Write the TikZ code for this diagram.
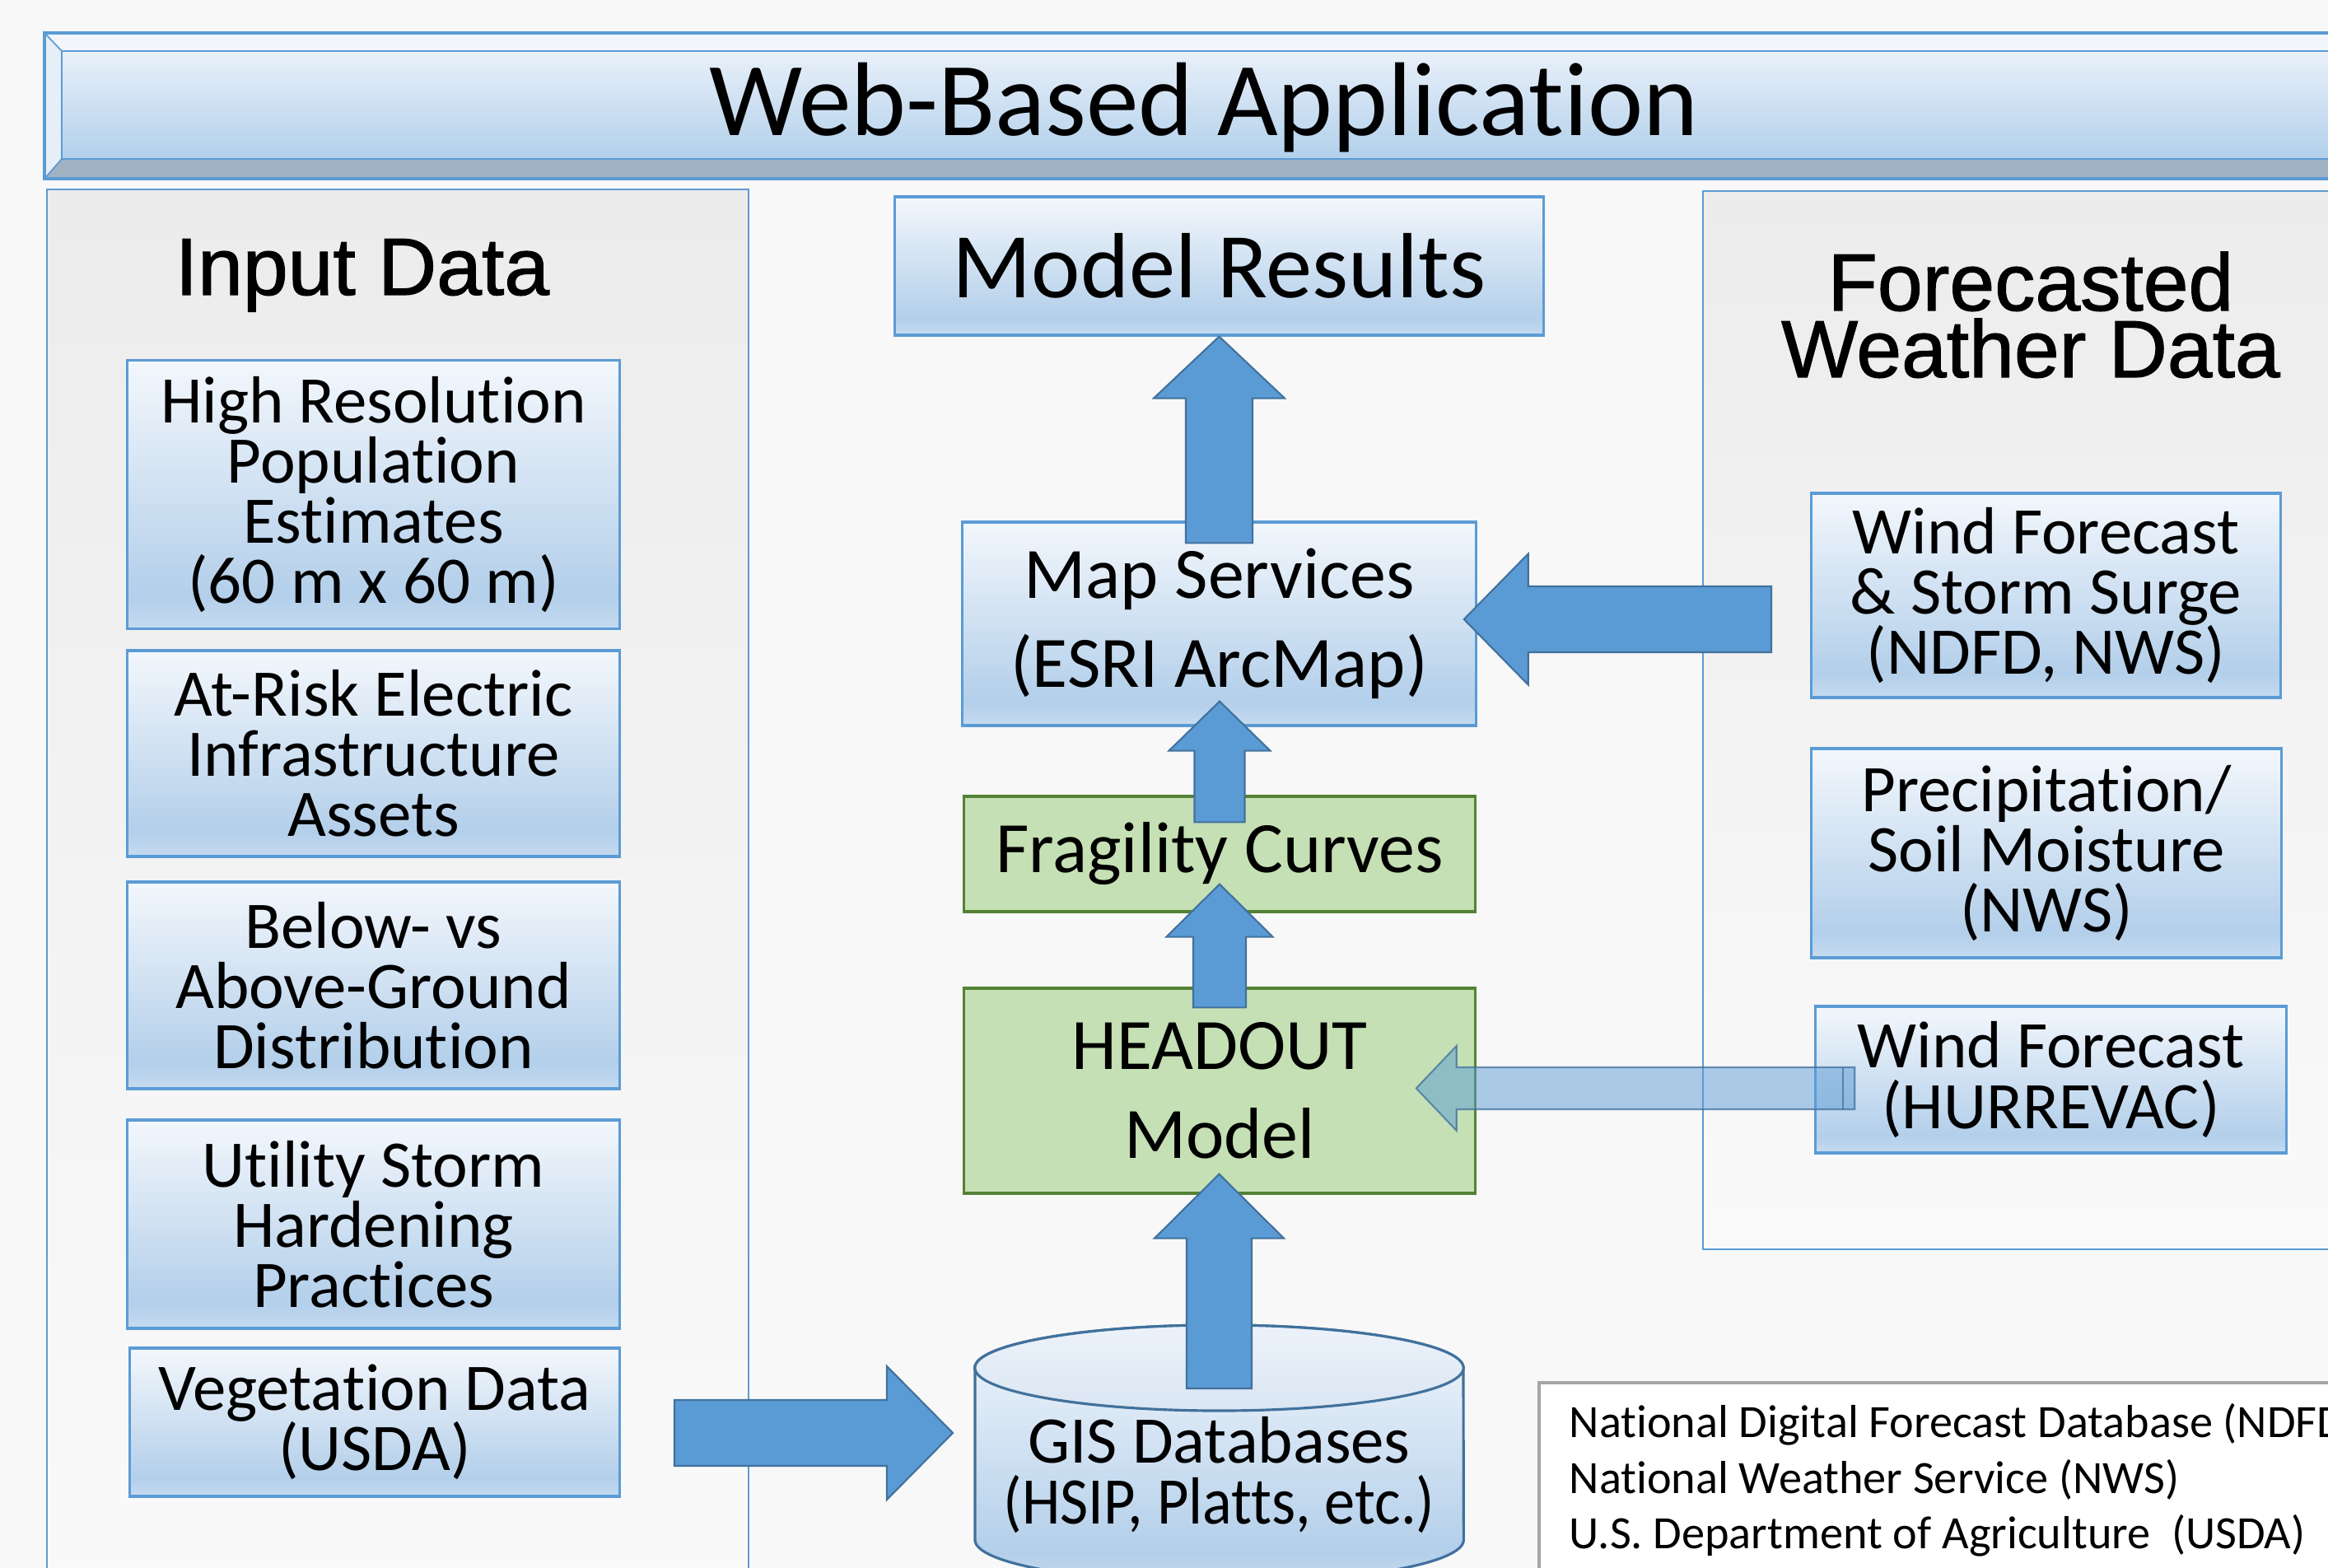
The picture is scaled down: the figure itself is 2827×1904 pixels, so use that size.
\documentclass[tikz,border=0pt]{standalone}
\usepackage{fontspec}
\setmainfont[Ligatures=NoCommon]{Carlito}
\newfontfamily\headfont[FakeBold=1.2]{Liberation Sans}
\usetikzlibrary{calc}

\definecolor{accent}{HTML}{5B9BD5}
\definecolor{accentdark}{HTML}{41719C}
\definecolor{boxtop}{HTML}{F3F7FC}
\definecolor{boxmid}{HTML}{B3CFEA}
\definecolor{boxbot}{HTML}{C6DBF0}
\definecolor{facetop}{HTML}{E9F0F9}
\definecolor{facebot}{HTML}{B2D0EB}
\definecolor{captop}{HTML}{ECF2FA}
\definecolor{capbot}{HTML}{DAE6F3}
\definecolor{greenfill}{HTML}{C5E0B4}
\definecolor{greenline}{HTML}{548235}
\definecolor{bevellight}{HTML}{F2F6FB}
\definecolor{bevelside}{HTML}{E6EEF8}
\definecolor{bevelbot}{HTML}{A1B2C4}
\definecolor{legendline}{HTML}{A6A6A6}
\definecolor{pagebg}{HTML}{F8F8F8}
\definecolor{paneltop}{HTML}{ECECEC}
\definecolor{panelbot}{HTML}{FAFAFA}

% light blue gradient with a slightly lighter band at the bottom
\pgfdeclareverticalshading{bluegrad}{100bp}{color(0bp)=(boxbot); color(25bp)=(boxbot); color(31bp)=(boxmid); color(75bp)=(boxtop); color(100bp)=(boxtop)}
\pgfdeclareverticalshading{facegrad}{100bp}{color(0bp)=(facebot); color(25bp)=(facebot); color(75bp)=(facetop); color(100bp)=(facetop)}
\pgfdeclareverticalshading{capgrad}{100bp}{color(0bp)=(capbot); color(25bp)=(capbot); color(75bp)=(captop); color(100bp)=(captop)}
\pgfdeclareverticalshading{panelgrad}{100bp}{color(0bp)=(panelbot); color(25bp)=(panelbot); color(75bp)=(paneltop); color(100bp)=(paneltop)}

% block arrows: tail, tip, half shaft width, half head width, head length
\newcommand\vblockarrow[6][blockarrow]{%
  \path[#1] ($(#2)+(-#4,0)$) -- ($(#2|-#3)+(-#4,#6)$) -- ($(#2|-#3)+(-#5,#6)$)
    -- (#2|-#3) -- ($(#2|-#3)+(#5,#6)$) -- ($(#2|-#3)+(#4,#6)$) -- ($(#2)+(#4,0)$) -- cycle;}
\newcommand\hblockarrow[6][blockarrow]{%
  \path[#1] ($(#2)+(0,-#4)$) -- ($(#3|-#2)+(#6,-#4)$) -- ($(#3|-#2)+(#6,-#5)$)
    -- (#3|-#2) -- ($(#3|-#2)+(#6,#5)$) -- ($(#3|-#2)+(#6,#4)$) -- ($(#2)+(0,#4)$) -- cycle;}

\tikzset{
  bluebox/.style={shade, shading=bluegrad, draw=accent, line width=0.9pt, inner sep=0pt,
    align=center, font=\fontsize{23}{20.8}\selectfont},
  greenbox/.style={fill=greenfill, draw=greenline, line width=0.9pt, inner sep=0pt,
    align=center, font=\fontsize{25}{30.7}\selectfont},
  panel/.style={shade, shading=panelgrad, draw=accent, line width=0.7pt},
  blockarrow/.style={fill=accent, draw=accentdark, line width=0.6pt},
  ghostarrow/.style={fill=accent, fill opacity=0.5, draw=accentdark, draw opacity=0.75, line width=0.6pt},
  heading/.style={font=\headfont\fontsize{28}{23}\selectfont, inner sep=0pt, anchor=base},
  legendtext/.style={font=\fontsize{16}{19.2}\selectfont, inner sep=0pt, anchor=base west},
}

\begin{document}
\begin{tikzpicture}[x=0.01cm, y=-0.01cm]
\clip (0,0) rectangle (2827,1904);
\fill[pagebg] (0,0) rectangle (2827,1904);

% side panels
\path[panel] (57,230) rectangle (909,1960);
\path[panel] (2068,232) rectangle (2900,1517);

% bevelled title bar
\fill[bevellight] (54,40) -- (2900,40) -- (2900,62) -- (75,62) -- cycle;
\fill[bevelside] (54,40) -- (75,62) -- (75,193) -- (54,217) -- cycle;
\fill[bevelbot] (54,217) -- (75,193) -- (2900,193) -- (2900,217) -- cycle;
\shade[shading=facegrad] (75,62) rectangle (2900,193);
\draw[accent, line width=0.5pt] (2900,62) -- (75,62) -- (75,193) -- (2900,193)
  (54,40) -- (75,62) (54,217) -- (75,193);
\draw[accent, line width=0.9pt] (54,40) rectangle (2900,217);
\node[font=\fontsize{36.2}{44}\selectfont, inner sep=0pt, anchor=base] (title) at (1462,165) {Web-Based Application};

% panel headings
\node[heading] (inhead) at (440,358) {Input Data};
\node[heading] (fchead1) at (2466,377) {Forecasted};
\node[heading] (fchead2) at (2466,458) {Weather Data};

% input data boxes
\node[bluebox, minimum width=5.97cm, minimum height=3.25cm] (hires) at (453.5,600.5)
  {High Resolution\\Population\\Estimates\\(60 m x 60 m)};
\node[bluebox, minimum width=5.97cm, minimum height=2.50cm] (atrisk) at (453.5,915)
  {At-Risk Electric\\Infrastructure\\Assets};
\node[bluebox, minimum width=5.97cm, minimum height=2.51cm] (below) at (453.5,1196.5)
  {Below- vs\\Above-Ground\\Distribution};
\node[bluebox, minimum width=5.97cm, minimum height=2.53cm] (utility) at (453.5,1486.5)
  {Utility Storm\\Hardening\\Practices};
\node[bluebox, minimum width=5.94cm, minimum height=1.80cm] (veg) at (455,1727)
  {Vegetation Data\\(USDA)};

% forecast boxes
\node[bluebox, minimum width=5.69cm, minimum height=2.48cm] (wind) at (2484.5,723)
  {Wind Forecast\\\& Storm Surge\\(NDFD, NWS)};
\node[bluebox, minimum width=5.70cm, minimum height=2.54cm] (precip) at (2485,1036)
  {Precipitation/\\Soil Moisture\\(NWS)};
\node[bluebox, minimum width=5.71cm, minimum height=1.78cm] (hurrevac) at (2490.5,1311)
  {Wind Forecast\\(HURREVAC)};

% central chain
\node[bluebox, minimum width=7.88cm, minimum height=1.68cm, font=\fontsize{32}{38}\selectfont]
  (results) at (1480.5,323) {Model Results};
\node[bluebox, minimum width=6.23cm, minimum height=2.47cm, font=\fontsize{25}{30.7}\selectfont]
  (map) at (1480.5,757.5) {Map Services\\(ESRI ArcMap)};
\node[greenbox, minimum width=6.20cm, minimum height=1.40cm] (frag) at (1481,1037) {Fragility Curves};
\node[greenbox, minimum width=6.20cm, minimum height=2.49cm] (headout) at (1481,1324.5) {HEADOUT\\Model};

% database cylinder
\path[shade, shading=bluegrad, draw=accentdark, line width=0.9pt]
  (1184,1661) -- (1184,1870) arc[start angle=180, end angle=360, x radius=2.965cm, y radius=0.52cm]
  -- (1777,1661) arc[start angle=0, end angle=180, x radius=2.965cm, y radius=0.52cm] -- cycle;
\path[shade, shading=capgrad, draw=accentdark, line width=0.9pt]
  (1480.5,1661) ellipse[x radius=2.965cm, y radius=0.52cm];
\node[font=\fontsize{23}{20.8}\selectfont, align=center, inner sep=0pt] (gis) at (1480.5,1791)
  {GIS Databases\\\scalebox{0.92}[1]{(HSIP, Platts, etc.)}};

% abbreviations
\path[draw=legendline, fill=white, line width=0.9pt] (1869,1679) rectangle (2900,1960);
\node[legendtext] (leg1) at (1905,1745) {National Digital Forecast Database (NDFD)};
\node[legendtext] (leg2) at (1905,1813) {National Weather Service (NWS)};
\node[legendtext] (leg3) at (1905,1880) {U.S. Department of Agriculture\ \ (USDA)};

% flow arrows
\coordinate (a1s) at ($(map.north)+(0,27)$);
\vblockarrow{a1s}{results.south}{40.5}{79.5}{75}

\coordinate (a2s) at ($(frag.north)+(0,33)$);
\coordinate (a2e) at ($(map.south)+(0,-31)$);
\vblockarrow{a2s}{a2e}{30.5}{61.5}{60}

\coordinate (a3s) at ($(headout.north)+(0,25)$);
\coordinate (a3e) at ($(frag.south)+(0,-35)$);
\vblockarrow{a3s}{a3e}{32}{64.5}{64}

\coordinate (a4s) at (1480.5,1686);
\coordinate (a4e) at ($(headout.south)+(0,-25)$);
\vblockarrow{a4s}{a4e}{39.5}{78.5}{78}

\coordinate (a5s) at (2151,752);
\coordinate (a5e) at ($(map.east)+(-16,0)$);
\hblockarrow{a5s}{a5e}{40}{79.5}{78}

\coordinate (a6s) at ($(hurrevac.west)+(49,10.5)$);
\coordinate (a6e) at ($(headout.east)+(-73,0)$);
\hblockarrow[ghostarrow]{a6s}{a6e}{25.5}{51.5}{49}
\draw[accentdark, draw opacity=0.75, line width=0.6pt] ($(a6s)+(-14,-25.5)$) -- ($(a6s)+(-14,25.5)$);

\coordinate (a7s) at (819,1740);
\coordinate (a7e) at (1157,1740);
\hblockarrow{a7s}{a7e}{40}{81}{-80}
\end{tikzpicture}
\end{document}
